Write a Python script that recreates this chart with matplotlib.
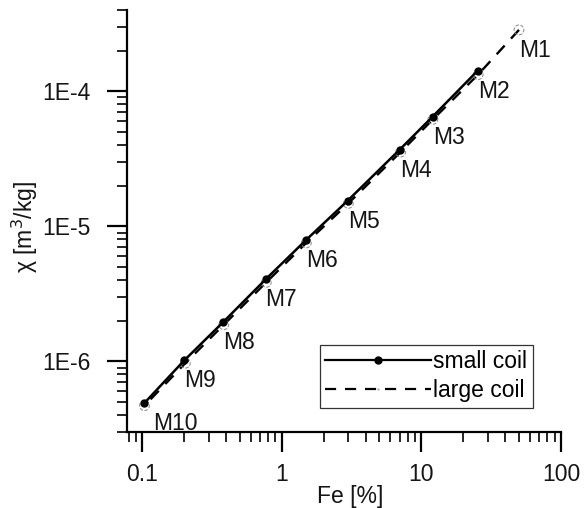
import matplotlib
matplotlib.use("Agg")
import matplotlib.pyplot as plt
from matplotlib.lines import Line2D

plt.rcParams['font.family'] = ['Liberation Sans', 'DejaVu Sans']

# data
sample_labels = ["M1", "M2", "M3", "M4", "M5", "M6", "M7", "M8", "M9", "M10"]
small_fe = [25.3, 12.05, 7.0, 2.97, 1.49, 0.767, 0.382, 0.201, 0.104]
small_chi = [1.42e-4, 6.5e-5, 3.7e-5, 1.55e-5, 7.9e-6, 4.05e-6, 1.96e-6, 1.02e-6, 4.92e-7]
large_fe = [50.0, 25.5, 12.1, 7.1, 3.0, 1.5, 0.775, 0.385, 0.204, 0.104]
large_chi = [2.85e-4, 1.33e-4, 6.2e-5, 3.55e-5, 1.48e-5, 7.55e-6, 3.85e-6, 1.87e-6, 9.7e-7, 4.7e-7]
x_ticks = [0.1, 1, 10, 100]
x_ticklabels = ["0.1", "1", "10", "100"]
y_ticks = [1e-6, 1e-5, 1e-4]
y_ticklabels = ["1E-6", "1E-5", "1E-4"]

FS = 16.5
TXT = '#151515'

fig = plt.figure(figsize=(5.87, 5.08), dpi=100)
ax = fig.add_axes([127/587, 76/508, 434/587, 422/508])

ax.plot(large_fe, large_chi, color='black', lw=1.7, ls=(0, (5, 4)), zorder=2)
ax.scatter(large_fe, large_chi, s=50, facecolors='none', edgecolors='#888888',
           linewidths=0.7, linestyles='--', zorder=3)
ax.plot(small_fe, small_chi, color='black', lw=1.8, marker='o', ms=5, zorder=4)

ax.set_xscale('log')
ax.set_yscale('log')
ax.set_xlim(0.078, 100)
ax.set_ylim(3e-7, 4e-4)

# labels next to points (large-coil position for M1, small-coil for others)
label_x = [large_fe[0]] + small_fe
label_y = [large_chi[0]] + small_chi
for lab, xv, yv in zip(sample_labels, label_x, label_y):
    dx = 6 if lab == "M10" else 0
    ax.annotate(lab, (xv, yv), xytext=(dx, -6.5), textcoords='offset points',
                ha='left', va='top', fontsize=FS, color=TXT)

ax.set_xticks(x_ticks)
ax.set_xticklabels(x_ticklabels)
ax.set_yticks(y_ticks)
ax.set_yticklabels(y_ticklabels)

for s in ['top', 'right']:
    ax.spines[s].set_visible(False)
for s in ['left', 'bottom']:
    ax.spines[s].set_linewidth(1.6)

ax.tick_params(which='major', direction='out', length=14.4, width=1.6,
               labelsize=FS, labelcolor=TXT)
ax.tick_params(axis='y', which='major', pad=12)
ax.tick_params(axis='x', which='major', pad=8)
ax.tick_params(which='minor', direction='out', length=7.2, width=1.2)

ax.set_xlabel("Fe [%]", fontsize=FS, color=TXT)
ax.set_ylabel("χ [m$^3$/kg]", fontsize=FS, color=TXT)
ax.xaxis.label.set_va('center')
ax.yaxis.label.set_va('center')
ax.xaxis.set_label_coords(0.514, -0.152)
ax.yaxis.set_label_coords(-0.235, 0.486)

h_small = Line2D([], [], color='black', lw=1.6, marker='o', ms=5)
h_large = Line2D([], [], color='black', lw=1.6, ls=(0, (5, 4)), marker='.', ms=1,
                 mfc='#999999', mec='#999999')
leg = ax.legend([h_small, h_large], ["small coil", "large coil"],
                loc='lower right', bbox_to_anchor=(0.935, 0.057),
                borderaxespad=0, fontsize=FS, handlelength=4.6,
                handletextpad=0.1, labelspacing=0.25, borderpad=0.25,
                fancybox=False, framealpha=1, edgecolor='#333333')
leg.get_frame().set_linewidth(0.9)

fig.savefig("out.png", dpi=100)
